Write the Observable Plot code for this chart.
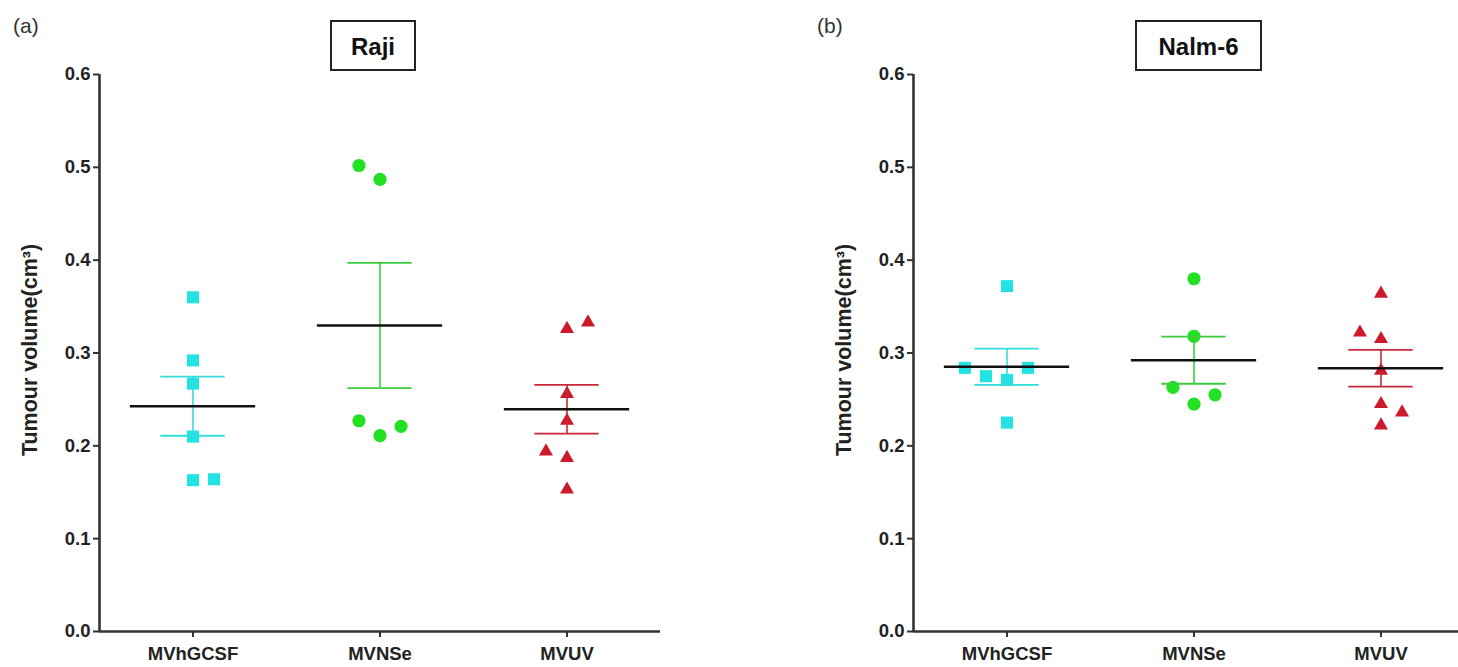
<!DOCTYPE html>
<html><head><meta charset="utf-8">
<script src="https://cdn.jsdelivr.net/npm/d3@7"></script>
<script src="https://cdn.jsdelivr.net/npm/@observablehq/plot@0.6"></script>
<style>
html,body{margin:0;padding:0;background:#fff;overflow:hidden}
#wrap{position:relative;width:1458px;height:667px;overflow:hidden;font-family:"Liberation Sans",Arial,sans-serif}
.panel{position:absolute;top:0}
.tag{position:absolute;top:15px;font-size:21px;line-height:1;color:#333}
.title{position:absolute;top:20px;height:51px;border:2px solid #222;font-weight:bold;font-size:24px;display:flex;align-items:center;justify-content:center;box-sizing:border-box;color:#111;padding-top:2px}
</style></head>
<body><div id="wrap"></div>
<script>
// ---- data ----
const groups = ["MVhGCSF", "MVNSe", "MVUV"];
const yTicks = [0, 0.1, 0.2, 0.3, 0.4, 0.5, 0.6];
const yLabel = "Tumour volume(cm\u00B3)";

// Raji
const rajiHGCSF = [0.360, 0.292, 0.267, 0.210, 0.163, 0.164];
const rajiNSe   = [0.502, 0.487, 0.227, 0.211, 0.221];
const rajiUV    = [0.326, 0.333, 0.256, 0.227, 0.194, 0.187, 0.153];
// Nalm-6
const nalmHGCSF = [0.372, 0.284, 0.275, 0.271, 0.284, 0.225];
const nalmNSe   = [0.380, 0.318, 0.263, 0.255, 0.245];
const nalmUV    = [0.364, 0.322, 0.315, 0.281, 0.245, 0.236, 0.222];

// scatter column (jitter slot) of each point, as drawn in the figure
const rajiSlots = [[0, 0, 0, 0, 0, 1], [-1, 0, -1, 0, 1], [0, 1, 0, 0, -1, 0, 0]];
const nalmSlots = [[0, -2, -1, 0, 1, 0], [0, 0, -1, 1, 0], [0, -1, 0, 0, 0, 1, 0]];

// ---- styling ----
const colors = ["#22e2e2", "#22e022", "#cc1a2a"];
const barColors = ["#30dede", "#3ccc3c", "#c8283a"];
const symbols = ["square", "circle", "triangle"];
const radii = [6.8, 6.6, 5.2];
const SLOT = 0.1125;

function panel(series, slots, left, svgWidth, marginLeft, xEnd) {
  const rows = series.flatMap((vals, i) => vals.map((v, j) => ({i, v, x: i + slots[i][j] * SLOT})));
  const stats = series.map((vals, i) => {
    const m = d3.mean(vals), s = d3.deviation(vals) / Math.sqrt(vals.length);
    return {i, m, lo: m - s, hi: m + s};
  });
  const marks = [
    Plot.axisY({ticks: yTicks, tickFormat: d3.format(".1f"), tickSize: 6, tickPadding: 3, label: null, stroke: "#333", strokeWidth: 2, fontSize: 18.5, fill: "#222"}),
    Plot.axisX({ticks: [0, 1, 2], tickFormat: i => groups[i], tickSize: 6, tickPadding: 9, label: null, stroke: "#333", strokeWidth: 2, fontSize: 18.5, fill: "#222"}),
    Plot.text([yLabel], {frameAnchor: "left", textAnchor: "middle", rotate: -90, dx: -69, dy: -3, fontSize: 21.5, fontWeight: "bold", fill: "#222", letterSpacing: "1.2px"}),
    Plot.ruleX([-0.5], {y1: 0, y2: 0.6, stroke: "#333", strokeWidth: 2.6}),
    Plot.ruleY([0], {x1: -0.5, x2: 2.5, stroke: "#333", strokeWidth: 2.6})
  ];
  for (let i = 0; i < 3; i++) {
    marks.push(Plot.dot(rows.filter(d => d.i === i), {x: "x", y: "v", symbol: () => symbols[i], r: radii[i], fill: colors[i], stroke: "none"}));
  }
  for (let i = 0; i < 3; i++) {
    const st = [stats[i]];
    marks.push(
      Plot.ruleX(st, {x: "i", y1: "lo", y2: "hi", stroke: barColors[i], strokeWidth: 1.6}),
      Plot.ruleY(st, {y: "hi", x1: d => d.i - 0.172, x2: d => d.i + 0.172, stroke: barColors[i], strokeWidth: 1.8}),
      Plot.ruleY(st, {y: "lo", x1: d => d.i - 0.172, x2: d => d.i + 0.172, stroke: barColors[i], strokeWidth: 1.8}),
      Plot.ruleY(st, {y: "m", x1: d => d.i - 0.335, x2: d => d.i + 0.335, stroke: "#111", strokeWidth: 2.4})
    );
  }
  const chart = Plot.plot({
    width: svgWidth, height: 667,
    marginLeft, marginRight: svgWidth - xEnd, marginTop: 74, marginBottom: 36,
    x: {domain: [-0.5, 2.5], range: [marginLeft, xEnd]},
    y: {domain: [0, 0.6], range: [631, 74]},
    style: {fontFamily: "'Liberation Sans', Arial, sans-serif", fontWeight: "bold", background: "transparent", overflow: "visible"},
    marks
  });
  chart.classList.add("panel");
  chart.style.left = left + "px";
  return chart;
}

const wrap = document.getElementById("wrap");
wrap.appendChild(panel([rajiHGCSF, rajiNSe, rajiUV], rajiSlots, 0, 729, 99, 660));
wrap.appendChild(panel([nalmHGCSF, nalmNSe, nalmUV], nalmSlots, 729, 745, 184, 745));

function addDiv(cls, text, left, width) {
  const d = document.createElement("div");
  d.className = cls; d.textContent = text; d.style.left = left + "px";
  if (width) d.style.width = width + "px";
  wrap.appendChild(d);
}
addDiv("tag", "(a)", 13);
addDiv("tag", "(b)", 817);
addDiv("title", "Raji", 330, 86);
addDiv("title", "Nalm-6", 1135, 127);
</script>
</body></html>
